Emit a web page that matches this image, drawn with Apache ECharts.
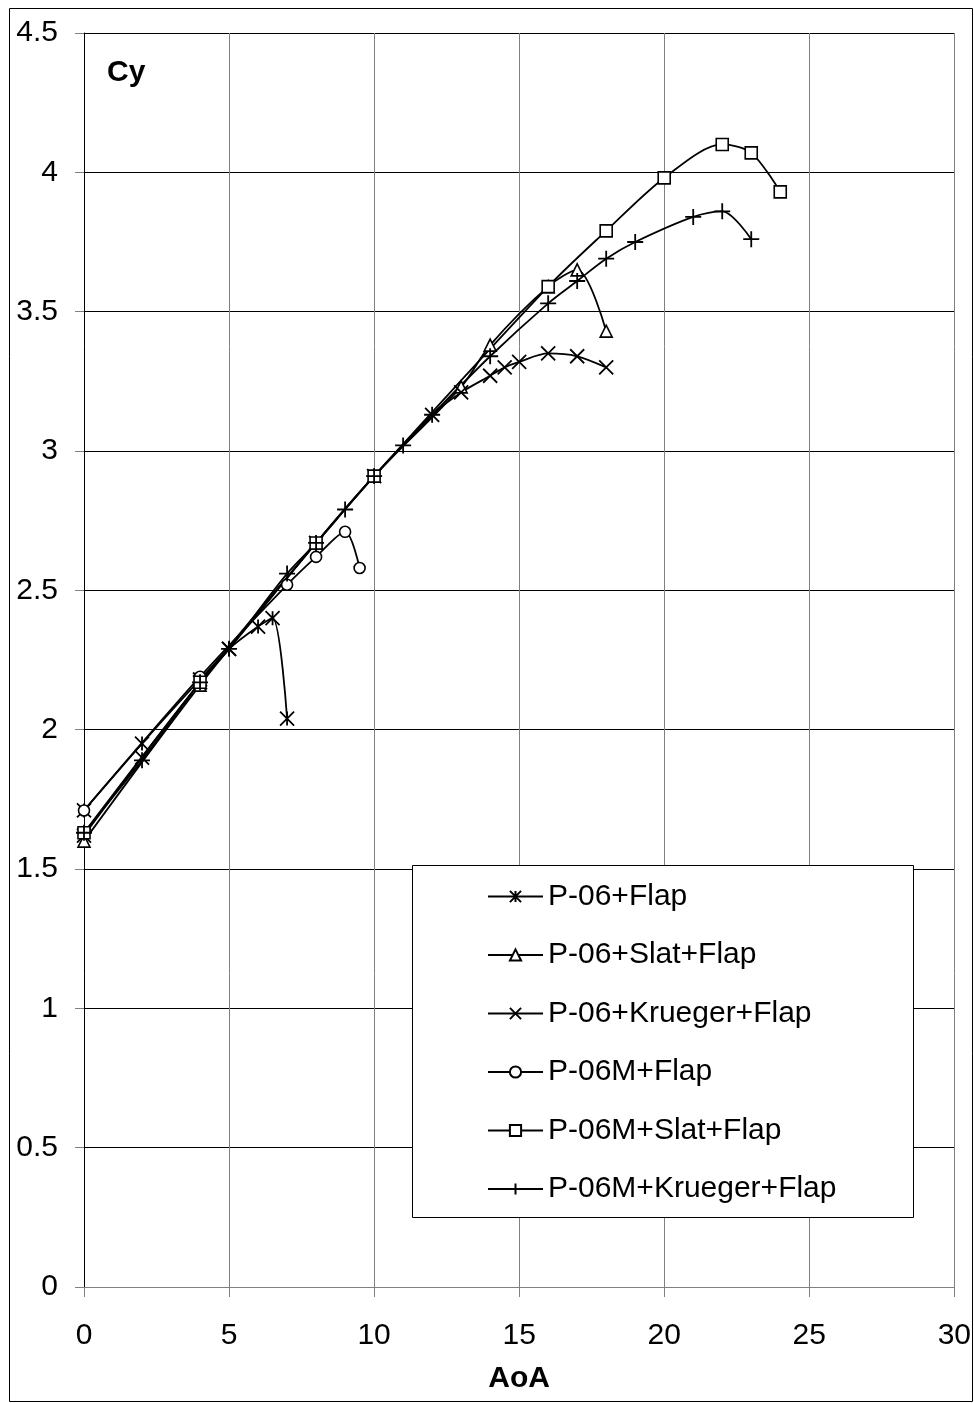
<!DOCTYPE html>
<html>
<head>
<meta charset="utf-8">
<script src="https://cdn.jsdelivr.net/npm/echarts@6/dist/echarts.min.js"></script>
<style>
  html, body { margin: 0; padding: 0; background: #fff; }
  #main { width: 974px; height: 1403px; }
</style>
</head>
<body>
<div id="main"></div>
<script>
// angle of attack / lift coefficient
var aoaFlap = [0, 2, 4, 5, 6, 6.5, 7];
var cyFlap = [1.71, 1.95, 2.18, 2.29, 2.37, 2.40, 2.04];

var aoaSlat = [0, 4, 8, 10, 13, 14, 16, 17, 18];
var cySlat = [1.60, 2.16, 2.67, 2.91, 3.23, 3.38, 3.59, 3.65, 3.43];

var aoaKrueger = [0, 2, 4, 5, 8, 10, 12, 13, 14, 14.5, 15, 16, 17, 18];
var cyKrueger = [1.62, 1.90, 2.17, 2.29, 2.67, 2.91, 3.13, 3.21, 3.27, 3.30, 3.32, 3.35, 3.34, 3.30];

var aoaMFlap = [0, 4, 7, 8, 9, 9.5];
var cyMFlap = [1.71, 2.19, 2.52, 2.62, 2.71, 2.58];

var aoaMSlat = [0, 4, 8, 10, 16, 18, 20, 22, 23, 24];
var cyMSlat = [1.63, 2.17, 2.67, 2.91, 3.59, 3.79, 3.98, 4.10, 4.07, 3.93];

var aoaMKrueger = [0, 2, 4, 5, 7, 8, 9, 10, 11, 12, 14, 16, 17, 18, 19, 21, 22, 23];
var cyMKrueger = [1.63, 1.89, 2.17, 2.29, 2.56, 2.67, 2.79, 2.91, 3.02, 3.13, 3.34, 3.53, 3.61, 3.69, 3.75, 3.84, 3.86, 3.76];

var names = ['P-06+Flap', 'P-06+Slat+Flap', 'P-06+Krueger+Flap', 'P-06M+Flap', 'P-06M+Slat+Flap', 'P-06M+Krueger+Flap'];

function pairs(xs, ys) {
    return xs.map(function (x, i) { return [x, ys[i]]; });
}

var FONT = '"Liberation Sans", Arial, sans-serif';

var hollow = { color: '#fff', borderColor: '#000', borderWidth: 1.6 };
var stroked = { color: 'none', borderColor: '#000', borderWidth: 1.8 };

function line(name, data, symbol, size, style) {
    return {
        name: name,
        type: 'line',
        data: data,
        smooth: 0.3,
        symbol: symbol,
        symbolSize: size,
        showAllSymbol: true,
        itemStyle: style,
        lineStyle: { color: '#000', width: 1.8 },
        emphasis: { disabled: true },
        z: 3
    };
}

var chart = echarts.init(document.getElementById('main'));

var option = {
    animation: false,
    backgroundColor: '#fff',
    grid: { left: 84, right: 18, top: 33, bottom: 116 },
    xAxis: {
        type: 'value',
        min: 0, max: 30, interval: 5,
        name: 'AoA',
        nameLocation: 'middle',
        nameGap: 77,
        nameTextStyle: { fontFamily: FONT, fontSize: 30, fontWeight: 'bold', color: '#000' },
        axisLine: { onZero: false, lineStyle: { color: '#808080', width: 1 } },
        axisTick: { show: true, length: 10, lineStyle: { color: '#808080' } },
        axisLabel: { fontFamily: FONT, fontSize: 30, color: '#000', margin: 34 },
        splitLine: { show: true, lineStyle: { color: '#808080', width: 1 } }
    },
    yAxis: {
        type: 'value',
        min: 0, max: 4.5, interval: 0.5,
        axisLine: { show: true, lineStyle: { color: '#000', width: 1 } },
        axisTick: { show: true, length: 9, lineStyle: { color: '#808080' } },
        axisLabel: { fontFamily: FONT, fontSize: 30, color: '#000', margin: 26 },
        splitLine: { show: true, lineStyle: { color: '#000', width: 1 } }
    },
    legend: {
        orient: 'vertical',
        left: 487,
        top: 881,
        padding: 0,
        z: 10,
        itemWidth: 55,
        itemHeight: 14,
        itemGap: 27.5,
        data: names,
        selectedMode: false,
        textStyle: { fontFamily: FONT, fontSize: 30, color: '#000', lineHeight: 31 }
    },
    graphic: [
        {
            type: 'rect',
            shape: { x: 9.5, y: 8.5, width: 963, height: 1393 },
            style: { fill: 'none', stroke: '#000', lineWidth: 1 },
            z: 0
        },
        {
            type: 'rect',
            shape: { x: 412.5, y: 865.5, width: 501, height: 352 },
            style: { fill: '#fff', stroke: '#000', lineWidth: 1 },
            z: 4
        },
        {
            type: 'text',
            left: 107,
            top: 58,
            style: { text: 'Cy', fontFamily: FONT, fontSize: 30, fontWeight: 'bold', fill: '#000' },
            z: 5
        }
    ],
    series: [
        line(names[0], pairs(aoaFlap, cyFlap), 'path://M0,0L10,10M10,0L0,10M5,0L5,10', 14, stroked),
        line(names[1], pairs(aoaSlat, cySlat), 'triangle', 12, hollow),
        line(names[2], pairs(aoaKrueger, cyKrueger), 'path://M0,0L10,10M10,0L0,10', 14, stroked),
        line(names[3], pairs(aoaMFlap, cyMFlap), 'circle', 11, hollow),
        line(names[4], pairs(aoaMSlat, cyMSlat), 'rect', 12, hollow),
        line(names[5], pairs(aoaMKrueger, cyMKrueger), 'path://M5,0L5,10M0,5L10,5', 16, stroked)
    ]
};

chart.setOption(option);
</script>
</body>
</html>
